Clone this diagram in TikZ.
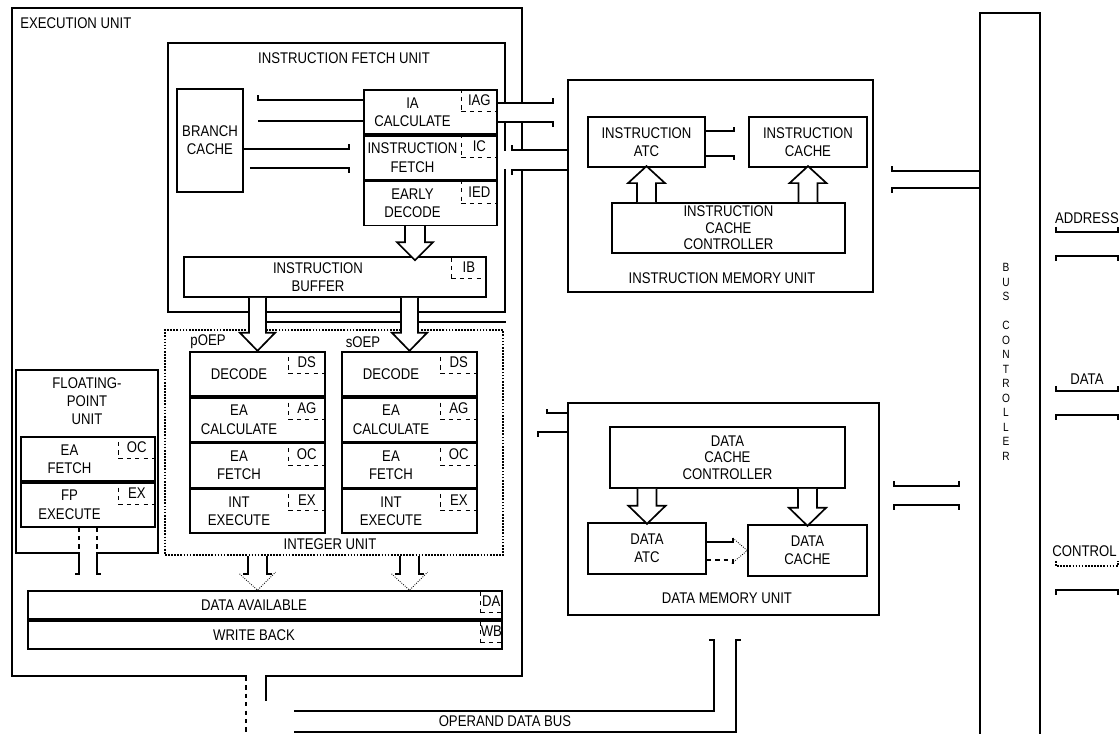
\documentclass[tikz,border=0pt]{standalone}
\usepackage{fontspec}
\setmainfont{Liberation Sans}[FakeStretch=0.85]
\usetikzlibrary{positioning}
\newcommand{\px}{0.025cm}
\newcommand{\lbl}{\fontsize{11}{13}\selectfont}
\newcommand{\lbltight}{\fontsize{11}{11.8}\selectfont}

\begin{document}
\begin{tikzpicture}[
    x=0.025cm, y=-0.025cm,
    node distance=0pt,
    blk/.style 2 args={draw, line width=1.2pt, inner sep=0pt, font=\lbl, align=center,
        minimum width=#1*\px, minimum height=#2*\px},
    txt/.style={font=\lbl, align=center, inner sep=0pt},
    tag/.style={draw, dashed, line width=0.7pt, inner sep=0pt, font=\lbl,
        minimum width=#1*\px, minimum height=22*\px, anchor=north east},
    stage/.style n args={4}{blk={#1}{44},
        label={[txt, xshift=-#2/2*\px]center:#3},
        label={[tag=#2]north east:#4}},
    bus/.style={line width=1.2pt},
    hollow/.style={line width=1.2pt, fill=white},
    fade/.style={line width=0.6pt, densely dotted}
]
    \useasboundingbox (0,0) rectangle (1119,734);

    % Execution unit
    \node[blk={510}{668}] (eu) at (267,342) {};
    \node[txt, anchor=west] (eulbl) at (20,23) {EXECUTION UNIT};

    % Instruction fetch unit
    \node[blk={337}{269}] (ifu) at (336.5,177.5) {};
    \node[txt] (ifulbl) at (344,58) {INSTRUCTION FETCH UNIT};
    \node[blk={66}{103}] (brc) at (210,140.5) {BRANCH\\CACHE};
    \node[stage={133}{36}{IA\\CALCULATE}{IAG}] (iac) at (430.5,112) {};
    \node[stage={133}{36}{INSTRUCTION\\FETCH}{IC}, below=of iac] (ifs) {};
    \node[stage={133}{36}{EARLY\\DECODE}{IED}, below=of ifs] (eds) {};
    \node[blk={302}{40}, label={[txt, xshift=-17*\px]center:INSTRUCTION\\BUFFER},
        label={[tag=35]north east:IB}] (ib) at (335,277) {};

    % Integer unit
    \node[blk={338}{225}, densely dotted] (iu) at (334,442.5) {};
    \node[txt] (iulbl) at (330,544) {INTEGER UNIT};
    \node[txt] (poeplbl) at (208,342) {pOEP};
    \node[txt] (soeplbl) at (363,342) {sOEP};
    \node[stage={135}{37}{DECODE}{DS}] (pdec) at (257.5,374) {};
    \node[stage={135}{37}{EA\\CALCULATE}{AG}, below=of pdec] (pea) {};
    \node[stage={135}{37}{EA\\FETCH}{OC}, below=of pea] (pfe) {};
    \node[stage={135}{37}{INT\\EXECUTE}{EX}, below=of pfe] (pex) {};
    \node[stage={135}{37}{DECODE}{DS}] (sdec) at (409.5,374) {};
    \node[stage={135}{37}{EA\\CALCULATE}{AG}, below=of sdec] (sea) {};
    \node[stage={135}{37}{EA\\FETCH}{OC}, below=of sea] (sfe) {};
    \node[stage={135}{37}{INT\\EXECUTE}{EX}, below=of sfe] (sex) {};

    % Floating-point unit
    \node[blk={142}{183}] (fpu) at (87,461.5) {};
    \node[txt] (fpulbl) at (87,401) {FLOATING-\\POINT\\UNIT};
    \node[stage={134}{37}{EA\\FETCH}{OC}] (fea) at (88,459) {};
    \node[stage={134}{37}{FP\\EXECUTE}{EX}, below=of fea] (fex) {};

    % Data available / write back
    \node[blk={474}{28}, label={[txt, xshift=-11*\px]center:DATA AVAILABLE},
        label={[tag=22]north east:DA}] (dav) at (265,605) {};
    \node[blk={474}{28}, label={[txt, xshift=-11*\px]center:WRITE BACK},
        label={[tag=22]north east:WB}, below=of dav] (wbk) {};

    % Instruction memory unit
    \node[blk={305}{212}] (imu) at (720.5,186) {};
    \node[txt] (imulbl) at (722,278) {INSTRUCTION MEMORY UNIT};
    \node[blk={117}{50}] (iatc) at (646.5,142) {INSTRUCTION\\ATC};
    \node[blk={118}{50}] (icache) at (808,142) {INSTRUCTION\\CACHE};
    \node[blk={233}{50}, font=\lbltight] (ictl) at (728.5,228) {INSTRUCTION\\CACHE\\CONTROLLER};

    % Data memory unit
    \node[blk={311}{212}] (dmu) at (723.5,509) {};
    \node[txt] (dmulbl) at (727,598) {DATA MEMORY UNIT};
    \node[blk={235}{61}, font=\lbltight] (dctl) at (727.5,457.5) {DATA\\CACHE\\CONTROLLER};
    \node[blk={118}{51}] (datc) at (647,548.5) {DATA\\ATC};
    \node[blk={119}{51}] (dcache) at (807.5,550.5) {DATA\\CACHE};

    % Bus controller
    \node[blk={60}{732}] (bc) at (1010,379) {};
    \node[font=\fontsize{8.5}{10.3}\selectfont, align=center, inner sep=0pt] (bclbl)
        at (1006,362) {B\\U\\S\\[10.3pt]C\\O\\N\\T\\R\\O\\L\\L\\E\\R};
    \node[txt] (addr) at (1087,218) {ADDRESS};
    \node[txt] (data) at (1087,379) {DATA};
    \node[txt, anchor=east] (ctrl) at (1117,551) {CONTROL};

    % Buses inside the fetch unit
    \draw[bus] (iac.west |- 0,100) -- ++(-105,0) -- ++(0,-5);
    \draw[bus] (iac.west |- 0,121) -- ++(-105,0);
    \draw[bus] (brc.east |- 0,149) -- ++(105,0) -- ++(0,-5);
    \draw[bus] (brc.east |- 0,168) ++(6,0) -- ++(99,0) -- ++(0,5);

    % Buses between fetch unit and instruction memory unit
    \fill[white] (500,104) rectangle (527,121);
    \fill[white] (500,151) rectangle (527,169);
    \draw[bus] (iac.east |- 0,103) -- ++(55,0) -- ++(0,-5);
    \draw[bus] (iac.east |- 0,122) -- ++(55,0) -- ++(0,5);
    \draw[bus] (imu.west |- 0,150) -- ++(-55,0) -- ++(0,-5);
    \draw[bus] (imu.west |- 0,170) -- ++(-55,0) -- ++(0,5);
    \draw[bus] (iatc.east |- 0,131) -- ++(28,0) -- ++(0,-4);
    \draw[bus] (iatc.east |- 0,156) -- ++(28,0) -- ++(0,4);
    \draw[bus] (bc.west |- 0,171) -- ++(-87,0) -- ++(0,-5);
    \draw[bus] (bc.west |- 0,188) -- ++(-87,0) -- ++(0,5);

    % Buses of the data memory unit
    \draw[bus] (dmu.west |- 0,413) -- ++(-20,0) -- ++(0,-4);
    \draw[bus] (dmu.west |- 0,432) -- ++(-29,0) -- ++(0,5);
    \draw[bus] (bc.west |- 0,486) ++(-20,-5) -- ++(0,5) -- ++(-65,0) -- ++(0,-5);
    \draw[bus] (bc.west |- 0,505) ++(-20,5) -- ++(0,-5) -- ++(-65,0) -- ++(0,5);
    \draw[bus] (datc.east |- 0,542) -- ++(26,0) -- ++(0,-4);
    \draw[bus, dashed] (datc.east |- 0,560) -- ++(26,0) -- ++(0,4);
    \draw[fade] (datc.east |- 0,538) ++(26,0) -- (dcache.west) -- ++(-16,13.5);

    % External buses
    \draw[bus] (bc.east |- 0,232) ++(15,-5) -- ++(0,5) -- ++(62,0) -- ++(0,-5);
    \draw[bus] (bc.east |- 0,256) ++(15,5) -- ++(0,-5) -- ++(62,0) -- ++(0,5);
    \draw[bus] (bc.east |- 0,391) ++(15,-5) -- ++(0,5) -- ++(62,0) -- ++(0,-5);
    \draw[bus] (bc.east |- 0,415) ++(15,5) -- ++(0,-5) -- ++(62,0) -- ++(0,5);
    \draw[bus, densely dotted] (bc.east |- 0,566) ++(15,-5) -- ++(0,5) -- ++(62,0) -- ++(0,-5);
    \draw[bus] (bc.east |- 0,590) ++(15,5) -- ++(0,-5) -- ++(62,0) -- ++(0,5);

    % Operand data bus
    \fill[white] (247,674.5) rectangle (265,677.5);
    \draw[bus, dashed] (eu.south -| 246,0) -- (246,734);
    \draw[bus] (eu.south -| 266,0) -- ++(0,24);
    \draw[bus] (294,711) -- (714,711) -- (714,640) -- ++(-5,0);
    \draw[bus] (294,732) -- (736,732) -- (736,640) -- ++(5,0);
    \node[txt] (odb) at (505,721) {OPERAND DATA BUS};

    % Hollow arrows
    \draw[bus] (pdec.north |- 0,322) -- (ifu.east |- 0,322);
    \draw[hollow] (eds.south) ++(-25.5,0) -- ++(0,16) -- ++(-8,0) -- ++(18,18)
        -- ++(18,-18) -- ++(-8,0) -- ++(0,-16);
    \draw[hollow] (pdec.north |- ib.south) ++(-8.5,0) -- ++(0,35) -- ++(-9,0)
        -- ++(17.5,18) -- ++(17.5,-18) -- ++(-9,0) -- ++(0,-35);
    \draw[hollow] (sdec.north |- ib.south) ++(-8.5,0) -- ++(0,35) -- ++(-9,0)
        -- ++(17.5,18) -- ++(17.5,-18) -- ++(-9,0) -- ++(0,-35);
    \draw[hollow] (iatc.south |- ictl.north) ++(-9.5,0) -- ++(0,-19) -- ++(-9,0)
        -- ++(18.5,-17) -- ++(18.5,17) -- ++(-9,0) -- ++(0,19);
    \draw[hollow] (icache.south |- ictl.north) ++(-9.5,0) -- ++(0,-19) -- ++(-9,0)
        -- ++(18.5,-17) -- ++(18.5,17) -- ++(-9,0) -- ++(0,19);
    \draw[hollow] (datc.north |- dctl.south) ++(-9.5,0) -- ++(0,17) -- ++(-9,0)
        -- ++(18.5,18) -- ++(18.5,-18) -- ++(-9,0) -- ++(0,-17);
    \draw[hollow] (dcache.north |- dctl.south) ++(-9.5,0) -- ++(0,19) -- ++(-9,0)
        -- ++(18.5,18) -- ++(18.5,-18) -- ++(-9,0) -- ++(0,-19);

    % Integer and floating-point results to data available
    \draw[bus] (pex.south |- iu.south) ++(-9.5,0) -- ++(0,18) -- ++(-5,0);
    \draw[bus] (pex.south |- iu.south) ++(9.5,0) -- ++(0,18) -- ++(5,0);
    \draw[fade] (pex.south |- iu.south) ++(-18,18) -- (pex.south |- dav.north) -- ++(18,-18);
    \draw[bus] (sex.south |- iu.south) ++(-9.5,0) -- ++(0,18) -- ++(-5,0);
    \draw[bus] (sex.south |- iu.south) ++(9.5,0) -- ++(0,18) -- ++(5,0);
    \draw[fade] (sex.south |- iu.south) ++(-18,18) -- (sex.south |- dav.north) -- ++(18,-18);
    \fill[white] (fex.south |- fpu.south) ++(-8,-1.5) rectangle ++(16,3);
    \draw[bus, dashed] (fex.south) ++(-9,0) -- ++(0,30);
    \draw[bus, dashed] (fex.south) ++(9,0) -- ++(0,30);
    \draw[bus] (fex.south |- fpu.south) ++(-9,0) -- ++(0,20) -- ++(-4,0);
    \draw[bus] (fex.south |- fpu.south) ++(9,0) -- ++(0,20) -- ++(4,0);
\end{tikzpicture}
\end{document}
